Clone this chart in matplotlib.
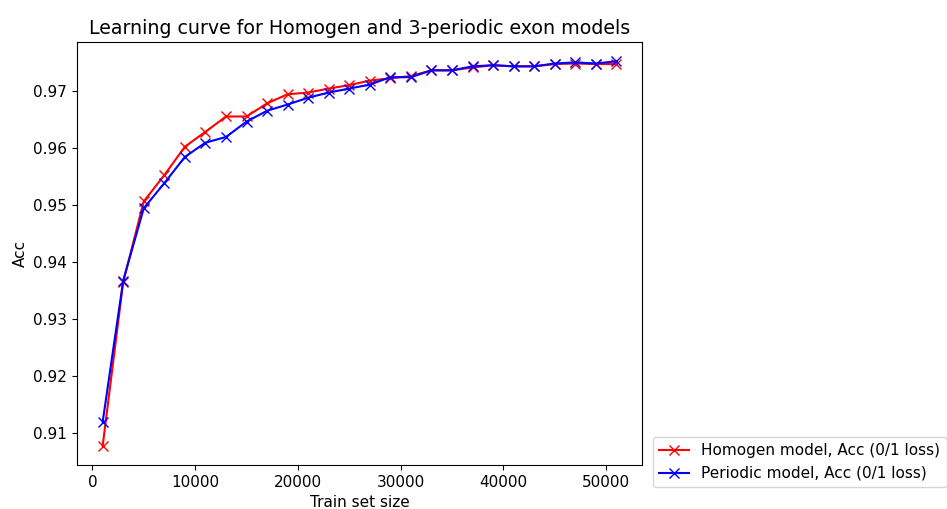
import numpy as np
import matplotlib
matplotlib.use("Agg")
import matplotlib.pyplot as plt

# training set sizes
train_sizes = np.arange(1000, 52000, 2000)

# accuracies
acc_homogen = [0.9078, 0.9366, 0.9507, 0.9553, 0.9603, 0.9629, 0.9656, 0.9656,
               0.9679, 0.9695, 0.9698, 0.9705, 0.9711, 0.9719, 0.9723, 0.9727,
               0.9737, 0.9737, 0.9742, 0.9746, 0.9744, 0.9744, 0.9748, 0.9749,
               0.9748, 0.9748]
acc_periodic = [0.9120, 0.9368, 0.9495, 0.9539, 0.9585, 0.9610, 0.9620, 0.9647,
                0.9666, 0.9677, 0.9689, 0.9698, 0.9705, 0.9712, 0.9725, 0.9725,
                0.9737, 0.9737, 0.9744, 0.9746, 0.9744, 0.9744, 0.9749, 0.9751,
                0.9749, 0.9753]

labels = ["Homogen model, Acc (0/1 loss)", "Periodic model, Acc (0/1 loss)"]

plt.rcParams["font.size"] = 11
fig = plt.figure(figsize=(9.47, 5.09), dpi=100)
ax = fig.add_axes([0.0813, 0.0864, 0.5967, 0.8311])
ax.plot(train_sizes, acc_homogen, "rx-", label=labels[0], markersize=6.5)
ax.plot(train_sizes, acc_periodic, "bx-", label=labels[1], markersize=6.5)
ax.set_title("Learning curve for Homogen and 3-periodic exon models", fontsize=13.7)
ax.set_xlabel("Train set size")
ax.set_ylabel("Acc")
ax.legend(loc="lower left", bbox_to_anchor=(0.681, 0.028),
          bbox_transform=fig.transFigure, fontsize=11)
fig.savefig("out.png", dpi=100)
